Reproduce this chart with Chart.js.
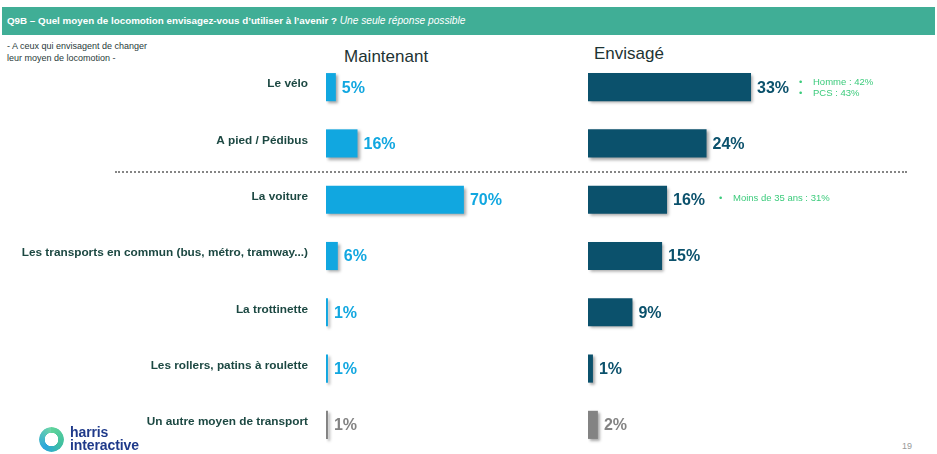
<!DOCTYPE html>
<html>
<head>
<meta charset="utf-8">
<script src="https://cdn.jsdelivr.net/npm/chart.js@4.4.1/dist/chart.umd.min.js"></script>
<style>
  html, body { margin:0; padding:0; background:#fff; }
  body { width:937px; height:454px; position:relative; overflow:hidden; font-family:"Liberation Sans", Arial, sans-serif; }
  .abs { position:absolute; white-space:nowrap; }
  #header { left:2px; top:7px; width:933px; height:28px; background:#40ae96; }
  #htxt { left:7px; top:15px; color:#fff; font-size:9.8px; font-weight:bold; }
  #htxt i { font-weight:normal; font-size:10.2px; }
  #note { left:7px; top:40px; color:#2a3a3a; font-size:9px; line-height:12px; }
  #tL { left:344px; top:47px; font-size:17px; color:#1d3333; }
  #tR { left:594px; top:44px; font-size:17px; color:#1d3333; }
  #sep { left:115px; top:171px; width:792px; height:0; border-top:2px dotted #858585; }
  .ann { color:#3ccb7c; font-size:9.5px; }
  .ann b { font-weight:normal; display:inline-block; width:14px; }
  #wrapL { left:0; top:59px; width:523px; height:394px; }
  #wrapR { left:588px; top:59px; width:247px; height:394px; }
  #ring { left:39px; top:427px; width:17px; height:17px; border-radius:50%;
          background:conic-gradient(#5fd39a 0deg, #3fbfa0 120deg, #2aa6dc 220deg, #6fd6a8 360deg);
          -webkit-mask: radial-gradient(circle, transparent 6.5px, #000 7px);
          mask: radial-gradient(circle, transparent 6.5px, #000 7px); padding:4px; }
  #logo { left:70px; top:426px; color:#1f3a8a; font-size:14px; font-weight:bold; line-height:13px; letter-spacing:-0.1px; }
  #page { left:902px; top:441px; color:#999; font-size:9px; }
</style>
</head>
<body>
<div id="header" class="abs"></div>
<div id="htxt" class="abs">Q9B – Quel moyen de locomotion envisagez-vous d’utiliser à l’avenir ? <i>Une seule réponse possible</i></div>
<div id="note" class="abs">- A ceux qui envisagent de changer<br>leur moyen de locomotion -</div>
<div id="tL" class="abs">Maintenant</div>
<div id="tR" class="abs">Envisagé</div>
<div id="wrapL" class="abs"><canvas id="cL"></canvas></div>
<div id="wrapR" class="abs"><canvas id="cR"></canvas></div>
<div id="sep" class="abs"></div>
<div class="abs ann" style="left:799px;top:76px;"><b>•</b>Homme : 42%</div>
<div class="abs ann" style="left:799px;top:87px;"><b>•</b>PCS : 43%</div>
<div class="abs ann" style="left:719px;top:192px;"><b>•</b>Moins de 35 ans : 31%</div>
<div id="ring" class="abs"></div>
<div id="logo" class="abs">harris<br>interactive</div>
<div id="page" class="abs">19</div>
<script>
const categories = ["Le vélo", "A pied / Pédibus", "La voiture", "Les transports en commun (bus, métro, tramway...)", "La trottinette", "Les rollers, patins à roulette", "Un autre moyen de transport"];
const maintenant = [5, 16, 70, 6, 1, 1, 1];
const envisage = [33, 24, 16, 15, 9, 1, 2];

const GRAY = '#838383';

const shadowPlugin = {
  id: 'shadow',
  beforeDatasetsDraw(chart) {
    const c = chart.ctx; c.save();
    c.shadowColor = 'rgba(0,0,0,0.35)'; c.shadowOffsetX = 2; c.shadowOffsetY = 2; c.shadowBlur = 3;
  },
  afterDatasetsDraw(chart) {
    const c = chart.ctx; c.restore();
    const col = chart.options.plugins.valueColor;
    c.save();
    c.font = 'bold 16px "Liberation Sans", Arial, sans-serif';
    c.textBaseline = 'middle'; c.textAlign = 'left';
    chart.getDatasetMeta(0).data.forEach((bar, i) => {
      c.fillStyle = i === categories.length - 1 ? GRAY : col;
      c.fillText(chart.data.datasets[0].data[i] + '%', bar.x + 6, bar.y + 1);
    });
    c.restore();
  }
};

function makeChart(id, data, color, max, showLabels) {
  return new Chart(document.getElementById(id), {
    type: 'bar',
    data: { labels: categories, datasets: [{ data: data,
      backgroundColor: ctx => ctx.dataIndex === categories.length - 1 ? GRAY : color,
      categoryPercentage: 0.5, barPercentage: 1.0, borderWidth: 0 }] },
    options: {
      indexAxis: 'y', responsive: true, maintainAspectRatio: false, animation: false,
      layout: { padding: 0 },
      plugins: { legend: { display: false }, tooltip: { enabled: false }, valueColor: color },
      scales: {
        x: { display: false, min: 0, max: max },
        y: showLabels ? {
          display: true, border: { display: false },
          grid: { display: false, drawTicks: false },
          ticks: { padding: 18, labelOffset: -3, color: '#1c4842', font: { family: '"Liberation Sans", Arial, sans-serif', size: 11.8, weight: 'bold' } },
          afterFit: s => { s.width = 326; s.paddingTop = 0; s.paddingBottom = 0; }
        } : { display: false }
      }
    },
    plugins: [shadowPlugin]
  });
}
makeChart('cL', maintenant, '#11a7e0', 100, true);
makeChart('cR', envisage, '#0b516c', 50, false);
</script>
</body>
</html>
